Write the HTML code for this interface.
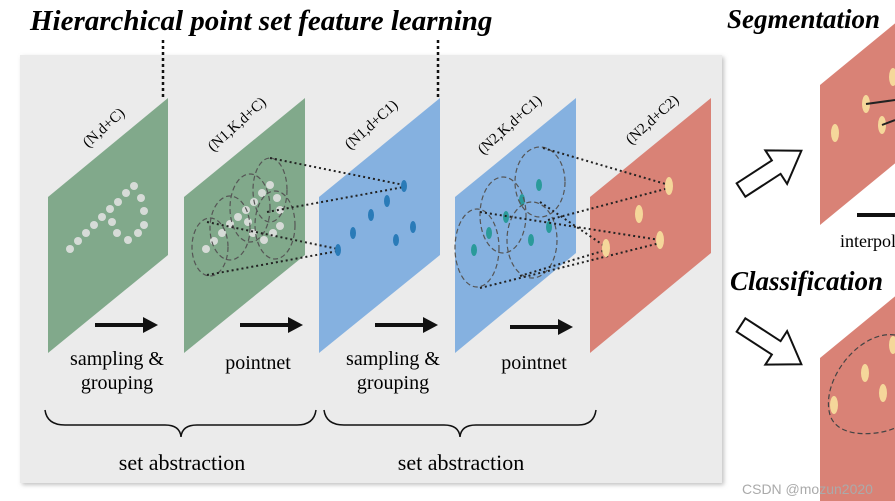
<!DOCTYPE html>
<html><head><meta charset="utf-8"><style>
html,body{margin:0;padding:0;background:#fff;width:895px;height:501px;overflow:hidden}
text{font-family:"Liberation Serif",serif}
</style></head><body>
<svg width="895" height="501" viewBox="0 0 895 501" xmlns="http://www.w3.org/2000/svg">
<defs>
<filter id="sh"><feDropShadow dx="2" dy="2" stdDeviation="2" flood-color="#999" flood-opacity="0.6"/></filter>
</defs>
<rect x="20" y="55" width="702" height="428" fill="#ebebeb" filter="url(#sh)"/>
<text x="30" y="30" font-size="29" font-weight="bold" font-style="italic">Hierarchical point set feature learning</text>
<line x1="163" y1="40" x2="163" y2="98" stroke="#111" stroke-width="2.5" stroke-dasharray="3,3"/>
<line x1="438" y1="40" x2="438" y2="98" stroke="#111" stroke-width="2.5" stroke-dasharray="3,3"/>

<polygon points="48,197 168,98 168,255 48,353" fill="#81a98b"/>
<polygon points="184,197 305,98 305,255 184,353" fill="#81a98b"/>
<polygon points="319,197 440,98 440,255 319,353" fill="#85b1e0"/>
<polygon points="455,197 576,98 576,253 455,353" fill="#85b1e0"/>
<polygon points="590,197 711,98 711,253 590,353" fill="#d98276"/>
<polygon points="820,85 921,2 921,142 820,225" fill="#d98276"/>
<polygon points="820,358 921,275 921,501 820,501" fill="#d98276"/>

<g font-size="15">
<text transform="translate(88,148) rotate(-42)">(N,d+C)</text>
<text transform="translate(213,152) rotate(-42)">(N1,K,d+C)</text>
<text transform="translate(350,150) rotate(-42)">(N1,d+C1)</text>
<text transform="translate(483,155) rotate(-42)">(N2,K,d+C1)</text>
<text transform="translate(631,145) rotate(-42)">(N2,d+C2)</text>
</g>

<g fill="#d6dbd7">
<circle cx="70" cy="249" r="4"/><circle cx="78" cy="241" r="4"/><circle cx="86" cy="233" r="4"/><circle cx="94" cy="225" r="4"/><circle cx="102" cy="217" r="4"/><circle cx="110" cy="209" r="4"/><circle cx="118" cy="202" r="4"/><circle cx="126" cy="193" r="4"/><circle cx="134" cy="186" r="4"/><circle cx="141" cy="198" r="4"/><circle cx="144" cy="211" r="4"/><circle cx="144" cy="225" r="4"/><circle cx="138" cy="233" r="4"/><circle cx="128" cy="240" r="4"/><circle cx="117" cy="233" r="4"/><circle cx="112" cy="222" r="4"/>
</g>
<g fill="#d6dbd7">
<circle cx="206" cy="249" r="4"/><circle cx="214" cy="241" r="4"/><circle cx="222" cy="233" r="4"/><circle cx="230" cy="224" r="4"/><circle cx="238" cy="217" r="4"/><circle cx="246" cy="210" r="4"/><circle cx="254" cy="202" r="4"/><circle cx="262" cy="193" r="4"/><circle cx="270" cy="185" r="4"/><circle cx="277" cy="198" r="4"/><circle cx="280" cy="210" r="4"/><circle cx="280" cy="226" r="4"/><circle cx="273" cy="233" r="4"/><circle cx="264" cy="240" r="4"/><circle cx="253" cy="233" r="4"/><circle cx="248" cy="222" r="4"/>
</g>
<g fill="none" stroke="#555" stroke-width="1.2" stroke-dasharray="5,3">
<ellipse cx="210" cy="247" rx="18" ry="29"/>
<ellipse cx="230" cy="228" rx="20" ry="32"/>
<ellipse cx="250" cy="208" rx="20" ry="34"/>
<ellipse cx="270" cy="190" rx="17" ry="32"/>
<ellipse cx="275" cy="225" rx="20" ry="34"/>
</g>
<g stroke="#222" stroke-width="2" stroke-dasharray="2,3" fill="none">
<line x1="270" y1="158" x2="404" y2="185"/>
<line x1="267" y1="212" x2="404" y2="187"/>
<line x1="207" y1="222" x2="338" y2="249"/>
<line x1="207" y1="275" x2="338" y2="251"/>
</g>
<g fill="#2a7bb8">
<ellipse cx="404" cy="186" rx="3" ry="6"/><ellipse cx="387" cy="201" rx="3" ry="6"/><ellipse cx="371" cy="215" rx="3" ry="6"/><ellipse cx="353" cy="233" rx="3" ry="6"/><ellipse cx="338" cy="250" rx="3" ry="6"/><ellipse cx="396" cy="240" rx="3" ry="6"/><ellipse cx="413" cy="227" rx="3" ry="6"/>
</g>
<g fill="#2a9a9a">
<ellipse cx="539" cy="185" rx="3" ry="6"/><ellipse cx="522" cy="200" rx="3" ry="6"/><ellipse cx="506" cy="217" rx="3" ry="6"/><ellipse cx="489" cy="233" rx="3" ry="6"/><ellipse cx="474" cy="250" rx="3" ry="6"/><ellipse cx="549" cy="227" rx="3" ry="6"/><ellipse cx="531" cy="240" rx="3" ry="6"/>
</g>
<g fill="none" stroke="#555" stroke-width="1.2" stroke-dasharray="5,3">
<ellipse cx="477" cy="248" rx="22" ry="39"/>
<ellipse cx="503" cy="215" rx="23" ry="38"/>
<ellipse cx="540" cy="182" rx="25" ry="35"/>
<ellipse cx="532" cy="240" rx="25" ry="38"/>
</g>
<g stroke="#222" stroke-width="2" stroke-dasharray="2,3" fill="none">
<line x1="543" y1="148" x2="669" y2="185"/>
<line x1="548" y1="220" x2="669" y2="188"/>
<line x1="480" y1="212" x2="660" y2="240"/>
<line x1="480" y1="288" x2="660" y2="243"/>
<line x1="540" y1="202" x2="606" y2="247"/>
<line x1="520" y1="276" x2="606" y2="250"/>
</g>
<g fill="#f5d79a">
<ellipse cx="669" cy="186" rx="4" ry="9"/><ellipse cx="639" cy="214" rx="4" ry="9"/><ellipse cx="660" cy="240" rx="4" ry="9"/><ellipse cx="606" cy="248" rx="4" ry="9"/>
<ellipse cx="835" cy="133" rx="4" ry="9"/><ellipse cx="866" cy="104" rx="4" ry="9"/><ellipse cx="882" cy="125" rx="4" ry="9"/><ellipse cx="893" cy="77" rx="4" ry="9"/>
<ellipse cx="834" cy="405" rx="4" ry="9"/><ellipse cx="865" cy="373" rx="4" ry="9"/><ellipse cx="883" cy="393" rx="4" ry="9"/><ellipse cx="893" cy="345" rx="4" ry="9"/>
</g>
<line x1="866" y1="104" x2="895" y2="100" stroke="#222" stroke-width="2"/>
<line x1="882" y1="125" x2="895" y2="120" stroke="#222" stroke-width="2"/>
<path d="M895,335 C860,330 820,380 830,415 C838,440 880,435 895,428" fill="none" stroke="#444" stroke-width="1.2" stroke-dasharray="5,3"/>

<g fill="#111" stroke="#111">
<line x1="95" y1="325" x2="145" y2="325" stroke-width="4"/><polygon points="143,317 158,325 143,333" stroke="none"/>
<line x1="240" y1="325" x2="290" y2="325" stroke-width="4"/><polygon points="288,317 303,325 288,333" stroke="none"/>
<line x1="375" y1="325" x2="425" y2="325" stroke-width="4"/><polygon points="423,317 438,325 423,333" stroke="none"/>
<line x1="510" y1="327" x2="560" y2="327" stroke-width="4"/><polygon points="558,319 573,327 558,335" stroke="none"/>
</g>
<line x1="857" y1="215" x2="895" y2="215" stroke="#111" stroke-width="4"/>

<polygon points="0,-8 42,-8 42,-20 72,0 42,20 42,8 0,8" fill="#fff" stroke="#111" stroke-width="2" transform="translate(741,190) rotate(-33)"/>
<polygon points="0,-8 42,-8 42,-20 72,0 42,20 42,8 0,8" fill="#fff" stroke="#111" stroke-width="2" transform="translate(741,325) rotate(33)"/>

<g font-size="20" text-anchor="middle">
<text x="117" y="365">sampling &amp;</text>
<text x="117" y="389">grouping</text>
<text x="258" y="369">pointnet</text>
<text x="393" y="365">sampling &amp;</text>
<text x="393" y="389">grouping</text>
<text x="534" y="369">pointnet</text>
</g>
<g font-size="22" text-anchor="middle">
<text x="182" y="470">set abstraction</text>
<text x="461" y="470">set abstraction</text>
</g>
<g fill="none" stroke="#111" stroke-width="1.5">
<path d="M45,410 Q47,425 65,425 L165,425 Q180,425 181,437 Q182,425 197,425 L297,425 Q314,425 316,410"/>
<path d="M324,410 Q326,425 344,425 L444,425 Q459,425 460,437 Q461,425 476,425 L578,425 Q594,425 596,410"/>
</g>
<text x="727" y="28" font-size="27" font-weight="bold" font-style="italic">Segmentation</text>
<text x="730" y="290" font-size="27" font-weight="bold" font-style="italic">Classification</text>
<text x="840" y="247" font-size="18">interpolate</text>
<text x="742" y="494" font-size="14" fill="#aaa" style="font-family:'Liberation Sans',sans-serif">CSDN @mozun2020</text>
</svg>
</body></html>
